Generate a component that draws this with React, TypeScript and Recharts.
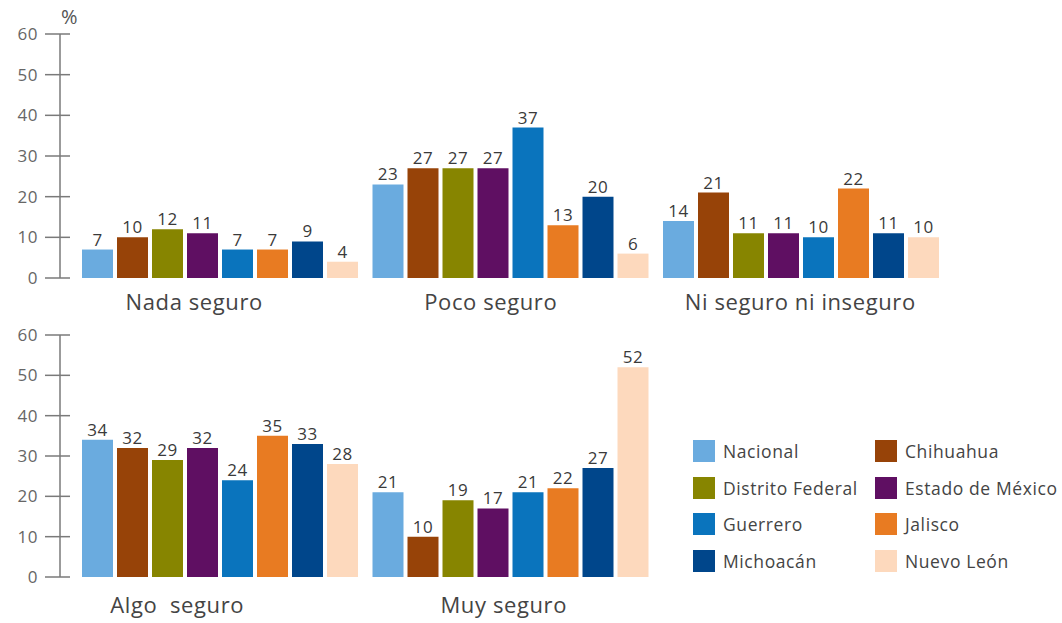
import React from "react";
import { BarChart, Bar, XAxis, YAxis, LabelList } from "recharts";

const categoriesTop = ["Nada seguro", "Poco seguro", "Ni seguro ni inseguro"];
const categoriesBottom = ["Algo  seguro", "Muy seguro"];
const yTicks = [0, 10, 20, 30, 40, 50, 60];

const seriesNames = [
  "Nacional",
  "Chihuahua",
  "Distrito Federal",
  "Estado de México",
  "Guerrero",
  "Jalisco",
  "Michoacán",
  "Nuevo León",
];
const seriesColors = [
  "#6aabdf",
  "#974308",
  "#878500",
  "#5f0f62",
  "#0a74bd",
  "#e87b22",
  "#00468b",
  "#fdd9bd",
];

// values in order: Nada seguro, Poco seguro, Ni seguro ni inseguro, Algo seguro, Muy seguro
const nacional = [7, 23, 14, 34, 21];
const chihuahua = [10, 27, 21, 32, 10];
const distritoFederal = [12, 27, 11, 29, 19];
const estadoMexico = [11, 27, 11, 32, 17];
const guerrero = [7, 37, 10, 24, 21];
const jalisco = [7, 13, 22, 35, 22];
const michoacan = [9, 20, 11, 33, 27];
const nuevoLeon = [4, 6, 10, 28, 52];

const seriesValues = [
  nacional,
  chihuahua,
  distritoFederal,
  estadoMexico,
  guerrero,
  jalisco,
  michoacan,
  nuevoLeon,
];

const allCategories = [...categoriesTop, ...categoriesBottom];
const rows = allCategories.map((cat, i) => {
  const row: Record<string, any> = { cat };
  seriesNames.forEach((n, s) => {
    row["s" + s] = seriesValues[s][i];
  });
  return row;
});
const topData = rows.slice(0, 3);
const bottomData = rows.slice(3);

const FONT = "'Open Sans', Lato, sans-serif";

const labelShift: Record<string, number> = {
  "Nada seguro": -26,
  "Poco seguro": -20,
  "Ni seguro ni inseguro": -1,
  "Algo  seguro": -43,
  "Muy seguro": -7,
};

const YTick = (props: any) => {
  const { x, y, payload } = props;
  return (
    <g>
      <line x1={x - 15} x2={x + 10} y1={y} y2={y} stroke="#7a7a7a" strokeWidth={1.5} />
      <text
        x={x - 22}
        y={y}
        dy="0.35em"
        textAnchor="end"
        fill="#666"
        fontSize={17}
        fontFamily={FONT}
        letterSpacing={0.5}
      >
        {payload.value}
      </text>
    </g>
  );
};

const makeXTick = (dy: number) => (props: any) => {
  const { x, y, payload } = props;
  const shift = labelShift[payload.value] ?? 0;
  return (
    <text
      x={x + shift}
      y={y + dy}
      dy="0.35em"
      textAnchor="middle"
      fill="#444"
      fontSize={22}
      fontFamily={FONT}
      letterSpacing={0.6}
      style={{ whiteSpace: "pre" }}
    >
      {payload.value}
    </text>
  );
};

const renderBars = () =>
  seriesNames.map((name, s) => (
    <Bar
      key={name}
      dataKey={"s" + s}
      name={name}
      fill={seriesColors[s]}
      isAnimationActive={false}
    >
      <LabelList
        dataKey={"s" + s}
        position="top"
        offset={4}
        fill="#3a3a3a"
        fontSize={17}
        fontFamily={FONT}
        letterSpacing={0.5}
      />
    </Bar>
  ));

export default function App() {
  return (
    <div
      style={{
        position: "absolute",
        left: 0,
        top: 0,
        width: 1062,
        height: 623,
        background: "#fff",
        fontFamily: FONT,
        overflow: "hidden",
      }}
    >
      <div
        style={{
          position: "absolute",
          left: 61,
          top: 3,
          fontSize: 20,
          color: "#555",
        }}
      >
        %
      </div>
      <div style={{ position: "absolute", left: 0, top: 0 }}>
        <BarChart
          width={1062}
          height={320}
          data={topData}
          margin={{ top: 34, right: 115.5, bottom: 0, left: 0 }}
          barCategoryGap={7}
          barGap={4}
        >
          <XAxis
            dataKey="cat"
            axisLine={false}
            tickLine={false}
            tickSize={0}
            tickMargin={0}
            height={42}
            padding={{ left: 15, right: 0 }}
            interval={0}
            tick={makeXTick(24)}
          />
          <YAxis
            domain={[0, 60]}
            ticks={yTicks}
            width={60}
            tickSize={0}
            tickMargin={0}
            tickLine={false}
            axisLine={{ stroke: "#7a7a7a", strokeWidth: 1.5 }}
            tick={<YTick />}
            interval={0}
          />
          {renderBars()}
        </BarChart>
      </div>
      <div style={{ position: "absolute", left: 0, top: 300 }}>
        <BarChart
          width={1062}
          height={323}
          data={bottomData}
          margin={{ top: 35, right: 406, bottom: 0, left: 0 }}
          barCategoryGap={7}
          barGap={4}
        >
          <XAxis
            dataKey="cat"
            axisLine={false}
            tickLine={false}
            tickSize={0}
            tickMargin={0}
            height={46}
            padding={{ left: 15, right: 0 }}
            interval={0}
            tick={makeXTick(28)}
          />
          <YAxis
            domain={[0, 60]}
            ticks={yTicks}
            width={60}
            tickSize={0}
            tickMargin={0}
            tickLine={false}
            axisLine={{ stroke: "#7a7a7a", strokeWidth: 1.5 }}
            tick={<YTick />}
            interval={0}
          />
          {renderBars()}
        </BarChart>
      </div>
      <div
        style={{
          position: "absolute",
          left: 693,
          top: 432.5,
          display: "grid",
          gridTemplateColumns: "182px 190px",
          gridAutoRows: "36.7px",
        }}
      >
        {seriesNames.map((name, s) => (
          <div
            key={name}
            style={{ display: "flex", alignItems: "center", height: 36.7 }}
          >
            <span
              style={{
                display: "inline-block",
                width: 22,
                height: 22,
                background: seriesColors[s],
                marginRight: 8,
              }}
            />
            <span
              style={{
                fontSize: 17.5,
                color: "#444",
                whiteSpace: "nowrap",
                letterSpacing: 0.6,
              }}
            >
              {name}
            </span>
          </div>
        ))}
      </div>
    </div>
  );
}
